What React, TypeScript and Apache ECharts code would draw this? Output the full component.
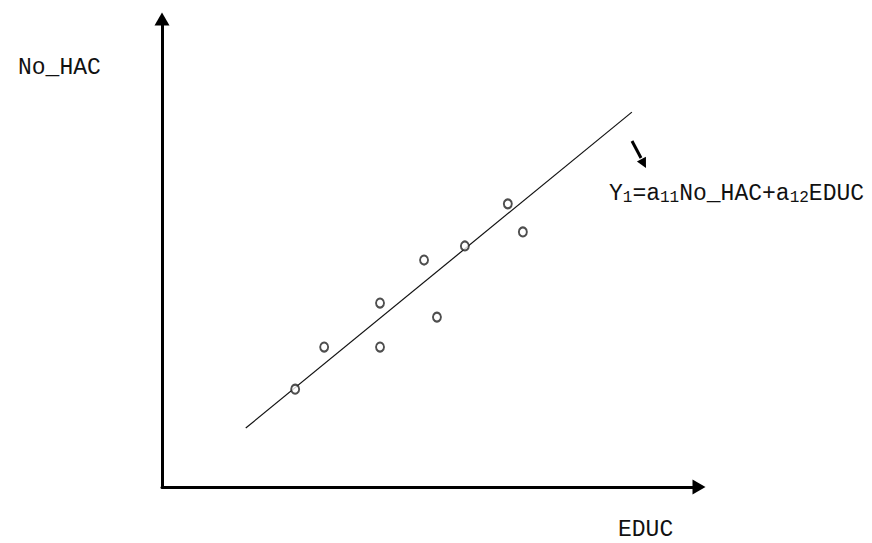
import React, { useEffect, useRef } from "react";
import * as echarts from "echarts";

// Observations (EDUC, No_HAC) in axis units
const educValues = [2.48, 3.02, 4.06, 4.06, 5.12, 4.88, 5.64, 6.44, 6.72];
const noHacValues = [2.09, 2.99, 2.99, 3.93, 3.63, 4.85, 5.15, 6.05, 5.45];
// Fitted line end points
const lineX = [1.56, 8.75];
const lineY = [1.26, 8.01];

const yLabel = "No_HAC";
const xLabel = "EDUC";
const formulaRich = "Y{s|1}=a{s|11}No_HAC+a{s|12}EDUC";

const FONT = "'Liberation Mono', 'DejaVu Sans Mono', monospace";

export default function App() {
  const ref = useRef<HTMLDivElement>(null);
  useEffect(() => {
    if (!ref.current) return;
    const chart = echarts.init(ref.current, null, { renderer: "svg" });
    const scatterData = educValues.map((x, i) => [x, noHacValues[i]]);
    const lineData = lineX.map((x, i) => [x, lineY[i]]);
    chart.setOption({
      animation: false,
      backgroundColor: "#ffffff",
      grid: { left: 162, right: 173, top: 19, bottom: 56 },
      xAxis: {
        type: "value",
        min: 0,
        max: 10,
        axisLine: {
          show: true,
          symbol: ["none", "triangle"],
          symbolSize: [15, 13],
          lineStyle: { color: "#000", width: 3 },
        },
        axisTick: { show: false },
        axisLabel: { show: false },
        splitLine: { show: false },
      },
      yAxis: {
        type: "value",
        min: 0,
        max: 10,
        axisLine: {
          show: true,
          symbol: ["none", "triangle"],
          symbolSize: [15, 13],
          lineStyle: { color: "#000", width: 3 },
        },
        axisTick: { show: false },
        axisLabel: { show: false },
        splitLine: { show: false },
      },
      series: [
        {
          type: "line",
          data: lineData,
          showSymbol: false,
          symbol: "none",
          lineStyle: { color: "#111", width: 1.2 },
          z: 1,
        },
        {
          type: "scatter",
          data: scatterData,
          symbol: "emptyCircle",
          symbolSize: [8, 9],
          itemStyle: { color: "#222", borderColor: "#222", borderWidth: 2.2 },
          z: 2,
        },
      ],
      graphic: [
        {
          type: "text",
          x: 18,
          y: 68,
          style: { text: yLabel, font: `23px ${FONT}`, fill: "#111", verticalAlign: "middle", align: "left" },
        },
        {
          type: "text",
          x: 618,
          y: 530,
          style: { text: xLabel, font: `23px ${FONT}`, fill: "#111", verticalAlign: "middle", align: "left" },
        },
        {
          type: "text",
          x: 609,
          y: 194,
          style: {
            text: formulaRich,
            font: `23px ${FONT}`,
            fill: "#111",
            verticalAlign: "middle",
            align: "left",
            rich: {
              s: { fontFamily: FONT, fontSize: 16, fill: "#111", verticalAlign: "bottom", lineHeight: 16 },
            },
          },
        },
        {
          type: "line",
          shape: { x1: 632, y1: 141, x2: 641, y2: 158 },
          style: { stroke: "#000", lineWidth: 3 },
        },
        {
          type: "polygon",
          shape: { points: [[646, 168], [645.9, 156.8], [636.9, 161.4]] },
          style: { fill: "#000" },
        },
      ],
    });
    return () => chart.dispose();
  }, []);
  return (
    <div
      ref={ref}
      style={{ position: "fixed", left: 0, top: 0, width: 872, height: 543, background: "#fff" }}
    />
  );
}
